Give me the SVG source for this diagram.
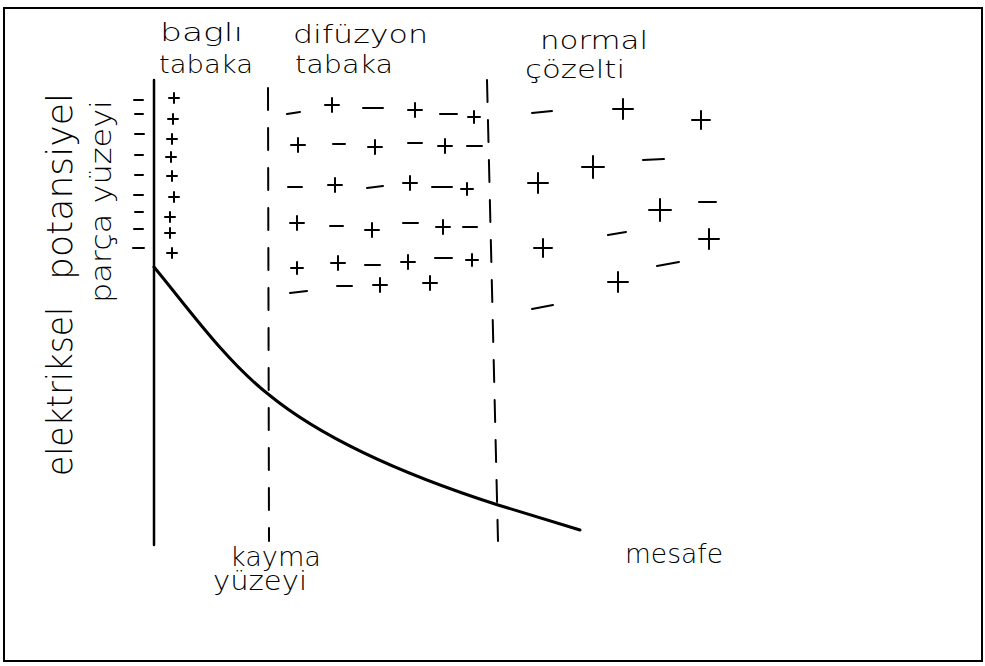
<svg xmlns="http://www.w3.org/2000/svg" width="985" height="666" viewBox="0 0 985 666">
<style>
.ln{fill:none;stroke:#000;stroke-linecap:round}
.ch{fill:none;stroke:#000;stroke-width:2;stroke-linecap:round}
.t{font-family:"DejaVu Sans","Liberation Sans",sans-serif;font-weight:200;fill:#000}
</style>
<rect width="985" height="666" fill="#fff"/>
<g id="frame"><rect x="4" y="8" width="978" height="653" class="ln" stroke-width="2"/></g>
<g id="particle-surface"><line x1="154" y1="80" x2="154" y2="545" class="ln" stroke-width="2.5"/></g>
<g id="slip-plane"><line x1="268" y1="88" x2="269" y2="541" class="ln" stroke-width="2" stroke-dasharray="22 18" stroke-linecap="butt"/></g>
<g id="diffuse-boundary"><line x1="487" y1="80" x2="498" y2="541" class="ln" stroke-width="2" stroke-dasharray="22 18" stroke-linecap="butt"/></g>
<g id="connectors">
<path id="potential-curve" class="ln" stroke-width="3" d="M154,267 C188,308 225,360 268,394 C330,445 420,480 498,505 C530,515 560,524 580,530"/>
</g>
<g id="bound-charges">
<path class="ch" d="M134 100h9M135 114h8M135 134h9M135 155h8M135 175h8M134 195h9M135 212h8M134 229h9M133 248h11"/>
<path class="ch" d="M169 98h10M174 93v10M168 119h10M173 114v10M167 139h10M172 134v10M166 157h10M171 152v10M167 176h10M172 171v10M169 197h10M174 192v10M165 217h10M170 212v10M165 233h10M170 228v10M167 253h10M172 248v10"/>
</g>
<g id="diffuse-charges">
<path class="ch" d="M287 114L300 112M363 108h20M440 114h17M333 144h12M408 143h14M467 146h15M288 187h14M367 188L383 186M432 187h20M330 226h13M403 223h15M463 227h14M365 265h15M435 258h17M290 293L307 291M337 286h15"/>
<path class="ch" d="M325 105h14M332 98v14M408 110h14M415 103v14M468 117h12M474 111v12M291 145h14M298 138v14M368 147h14M375 140v14M438 146h14M445 139v14M328 185h14M335 178v14M403 183h14M410 176v14M461 189h12M467 183v12M290 223h14M297 216v14M365 230h14M372 223v14M436 227h14M443 220v14M291 268h12M297 262v12M331 263h14M338 256v14M401 262h14M408 255v14M466 260h12M472 254v12M373 285h14M380 278v14M423 283h14M430 276v14"/>
</g>
<g id="solution-charges">
<path class="ch" d="M532 113L552 111M643 160L664 159M699 202h17M608 235L626 232M657 266L679 262M532 309L553 305"/>
<path class="ch" d="M613 109h20M623 99v20M692 120h18M701 111v18M582 167h22M593 156v22M528 183h20M538 173v20M649 210h22M660 199v22M699 239h20M709 229v20M534 248h18M543 239v18M608 282h20M618 272v20"/>
</g>
<g id="labels">
<text class="t" x="160" y="41" font-size="24" textLength="83" lengthAdjust="spacingAndGlyphs">baglı</text>
<text class="t" x="159" y="73" font-size="24" textLength="94" lengthAdjust="spacingAndGlyphs">tabaka</text>
<text class="t" x="293" y="43" font-size="24" textLength="135" lengthAdjust="spacingAndGlyphs">difüzyon</text>
<text class="t" x="295" y="73" font-size="24" textLength="98" lengthAdjust="spacingAndGlyphs">tabaka</text>
<text class="t" x="540" y="49" font-size="25" textLength="108" lengthAdjust="spacingAndGlyphs">normal</text>
<text class="t" x="525" y="78" font-size="25" textLength="100" lengthAdjust="spacingAndGlyphs">çözelti</text>
<text class="t" x="230" y="566" font-size="26" textLength="91" lengthAdjust="spacingAndGlyphs">kayma</text>
<text class="t" x="213" y="590" font-size="26" textLength="94" lengthAdjust="spacingAndGlyphs">yüzeyi</text>
<text class="t" x="625" y="563" font-size="26" textLength="98" lengthAdjust="spacingAndGlyphs">mesafe</text>
<text class="t" transform="translate(72,476) rotate(-90)" font-size="36" textLength="169" lengthAdjust="spacingAndGlyphs">elektriksel</text>
<text class="t" transform="translate(72,280) rotate(-90)" font-size="36" textLength="187" lengthAdjust="spacingAndGlyphs">potansiyel</text>
<text class="t" transform="translate(111,303) rotate(-90)" font-size="28" textLength="203" lengthAdjust="spacingAndGlyphs">parça yüzeyi</text>
</g>
</svg>
